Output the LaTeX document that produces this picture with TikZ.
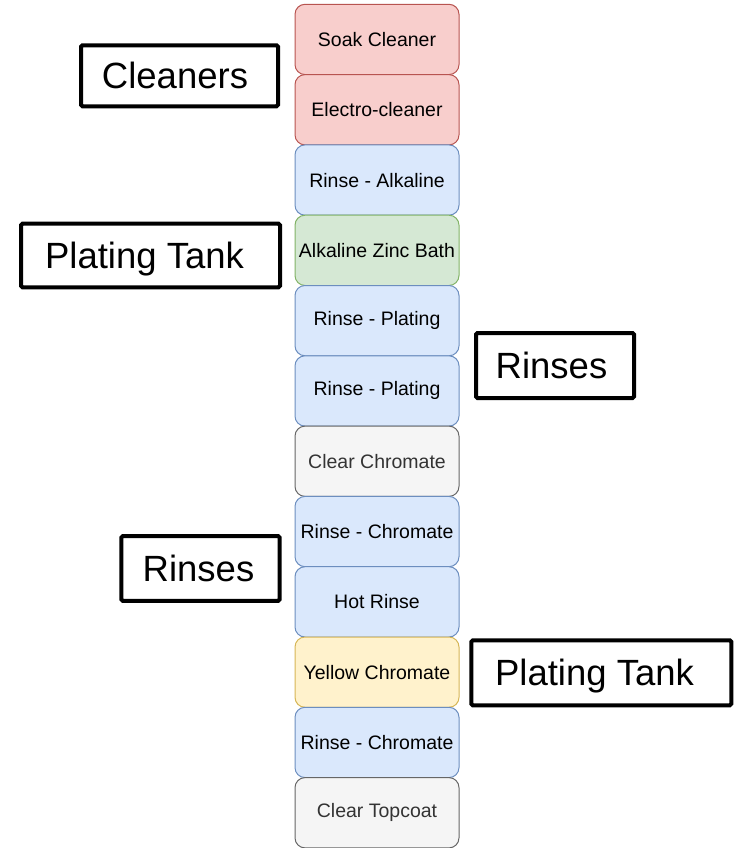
\documentclass[tikz,border=0pt]{standalone}
\usepackage{fontspec}
\setmainfont{Liberation Sans}
\definecolor{redF}{HTML}{F8CECC}\definecolor{redD}{HTML}{B85450}
\definecolor{bluF}{HTML}{DAE8FC}\definecolor{bluD}{HTML}{6C8EBF}
\definecolor{grnF}{HTML}{D5E8D4}\definecolor{grnD}{HTML}{82B366}
\definecolor{gryF}{HTML}{F5F5F5}\definecolor{gryD}{HTML}{666666}
\definecolor{ylwF}{HTML}{FFF2CC}\definecolor{ylwD}{HTML}{D6B656}
\definecolor{gryT}{HTML}{333333}
\tikzset{
  stepbox/.style={draw, rounded corners=10pt, line width=1pt, minimum width=164pt, minimum height=70.3pt, inner sep=0pt,
    font=\fontsize{19.5}{23}\selectfont},
  redbox/.style={stepbox, fill=redF, draw=redD},
  blubox/.style={stepbox, fill=bluF, draw=bluD},
  grnbox/.style={stepbox, fill=grnF, draw=grnD},
  grybox/.style={stepbox, fill=gryF, draw=gryD, text=gryT},
  ylwbox/.style={stepbox, fill=ylwF, draw=ylwD},
  tagbox/.style={draw=black, line width=4pt, rounded corners=1.5pt, fill=white, inner sep=0pt},
  tagtext/.style={font=\fontsize{36.5}{42}\selectfont, inner sep=0pt, anchor=base},
}
\begin{document}
\begin{tikzpicture}[x=1pt,y=-1pt]
\useasboundingbox (0,0) rectangle (734,848);
\def\bx{377}
\node[redbox] (s1) at (\bx,{4.3+35.15+70.3*0}) {Soak Cleaner};
\node[redbox] (s2) at (\bx,{4.3+35.15+70.3*1}) {Electro-cleaner};
\node[blubox] (s3) at (\bx,{4.3+35.15+70.3*2}) {Rinse - Alkaline};
\node[grnbox] (s4) at (\bx,{4.3+35.15+70.3*3}) {Alkaline Zinc Bath};
\node[blubox] (s5) at (\bx,{4.3+35.15+70.3*4}) {Rinse - Plating};
\node[blubox] (s6) at (\bx,{4.3+35.15+70.3*5}) {Rinse - Plating};
\node[grybox] (s7) at (\bx,{4.3+35.15+70.3*6}) {Clear Chromate};
\node[blubox] (s8) at (\bx,{4.3+35.15+70.3*7}) {Rinse - Chromate};
\node[blubox] (s9) at (\bx,{4.3+35.15+70.3*8}) {Hot Rinse};
\node[ylwbox] (s10) at (\bx,{4.3+35.15+70.3*9}) {Yellow Chromate};
\node[blubox] (s11) at (\bx,{4.3+35.15+70.3*10}) {Rinse - Chromate};
\node[grybox] (s12) at (\bx,{4.3+35.15+70.3*11}) {Clear Topcoat};

% label boxes
\node[tagbox, minimum width=197pt, minimum height=61pt] (b1) at (179.5,75.8) {};
\node[tagtext] (t1) at (175,89) {Cleaners};
\node[tagbox, minimum width=259pt, minimum height=63.6pt] (b2) at (150.5,255.5) {};
\node[tagtext] (t2) at (144.5,268.5) {Plating Tank};
\node[tagbox, minimum width=158pt, minimum height=65pt] (b3) at (555,365.5) {};
\node[tagtext] (t3) at (551.5,378.5) {Rinses};
\node[tagbox, minimum width=158.4pt, minimum height=64.7pt] (b4) at (200.5,568.4) {};
\node[tagtext] (t4) at (198.5,581.5) {Rinses};
\node[tagbox, minimum width=260pt, minimum height=65pt] (b5) at (601.3,672.8) {};
\node[tagtext] (t5) at (594.5,685.8) {Plating Tank};
\end{tikzpicture}
\end{document}
